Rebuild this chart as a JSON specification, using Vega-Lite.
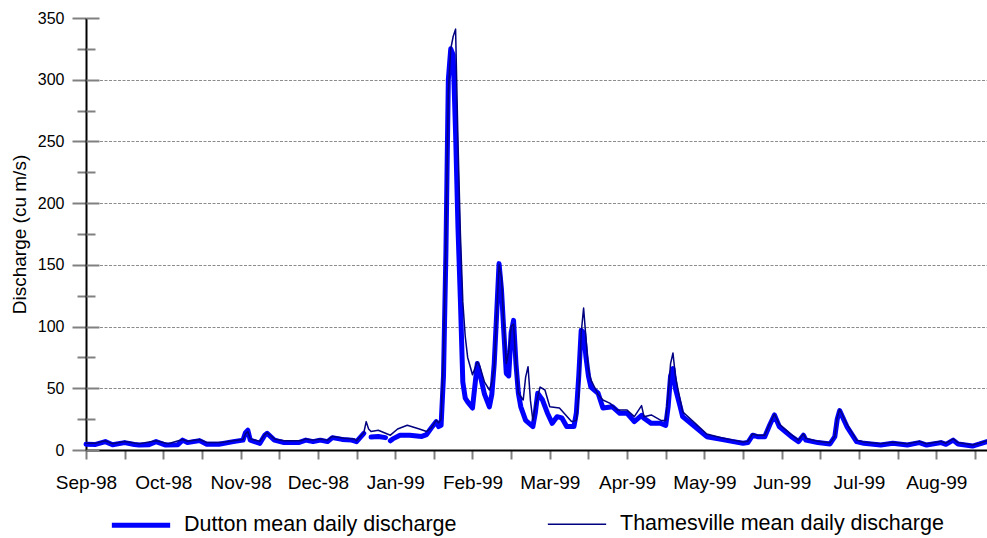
{
  "$schema": "https://vega.github.io/schema/vega-lite/v6.json",
  "width": 901,
  "height": 432,
  "autosize": {"type": "none"},
  "padding": {"left": 86, "top": 18, "right": 0, "bottom": 88},
  "config": {"font": "Liberation Sans", "view": {"stroke": null}},
  "resolve": {"axis": {"y": "independent"}},
  "layer": [
    {
      "data": {"values": [
        {"day":0,"station":"Dutton","q":4.6},{"day":4,"station":"Dutton","q":4.5},{"day":8,"station":"Dutton","q":6.8},{"day":11,"station":"Dutton","q":4.2},{"day":16,"station":"Dutton","q":6},{"day":20,"station":"Dutton","q":4.5},{"day":22,"station":"Dutton","q":4},{"day":26,"station":"Dutton","q":4.2},{"day":29,"station":"Dutton","q":6.8},{"day":33,"station":"Dutton","q":4},{"day":38,"station":"Dutton","q":4.2},{"day":40,"station":"Dutton","q":8},{"day":42,"station":"Dutton","q":6},{"day":47,"station":"Dutton","q":7.6},{"day":50,"station":"Dutton","q":4.6},{"day":55,"station":"Dutton","q":4.6},{"day":61,"station":"Dutton","q":6.8},{"day":65,"station":"Dutton","q":8},{"day":66,"station":"Dutton","q":14},{"day":67,"station":"Dutton","q":16},{"day":68,"station":"Dutton","q":8},{"day":72,"station":"Dutton","q":5.4},{"day":74,"station":"Dutton","q":12},{"day":75,"station":"Dutton","q":13.5},{"day":78,"station":"Dutton","q":8},{"day":82,"station":"Dutton","q":6},{"day":88,"station":"Dutton","q":6},{"day":91,"station":"Dutton","q":8},{"day":94,"station":"Dutton","q":6.8},{"day":97,"station":"Dutton","q":8},{"day":100,"station":"Dutton","q":6.8},{"day":102,"station":"Dutton","q":10},{"day":106,"station":"Dutton","q":8.6},{"day":110,"station":"Dutton","q":8},{"day":112,"station":"Dutton","q":6.8},{"day":115,"station":"Dutton","q":13.5},{"day":116,"station":"Dutton","q":null},{"day":117,"station":"Dutton","q":null},{"day":118,"station":"Dutton","q":10.5},{"day":121,"station":"Dutton","q":11},{"day":124,"station":"Dutton","q":10},{"day":125,"station":"Dutton","q":null},{"day":126,"station":"Dutton","q":7.5},{"day":127,"station":"Dutton","q":9},{"day":130,"station":"Dutton","q":12},{"day":134,"station":"Dutton","q":12},{"day":139,"station":"Dutton","q":11},{"day":141,"station":"Dutton","q":12.5},{"day":143,"station":"Dutton","q":18},{"day":145,"station":"Dutton","q":23},{"day":146,"station":"Dutton","q":19},{"day":147,"station":"Dutton","q":20},{"day":148,"station":"Dutton","q":60},{"day":149,"station":"Dutton","q":160},{"day":150,"station":"Dutton","q":300},{"day":151,"station":"Dutton","q":325},{"day":152,"station":"Dutton","q":320},{"day":153,"station":"Dutton","q":257},{"day":154,"station":"Dutton","q":180},{"day":155,"station":"Dutton","q":121},{"day":156,"station":"Dutton","q":55},{"day":157,"station":"Dutton","q":42},{"day":158,"station":"Dutton","q":39},{"day":160,"station":"Dutton","q":34},{"day":162,"station":"Dutton","q":70},{"day":163,"station":"Dutton","q":62},{"day":165,"station":"Dutton","q":45},{"day":167,"station":"Dutton","q":35},{"day":168,"station":"Dutton","q":45},{"day":169,"station":"Dutton","q":70},{"day":170,"station":"Dutton","q":110},{"day":171,"station":"Dutton","q":151},{"day":172,"station":"Dutton","q":130},{"day":173,"station":"Dutton","q":95},{"day":174,"station":"Dutton","q":62},{"day":175,"station":"Dutton","q":60},{"day":176,"station":"Dutton","q":95},{"day":177,"station":"Dutton","q":105},{"day":178,"station":"Dutton","q":70},{"day":179,"station":"Dutton","q":46},{"day":180,"station":"Dutton","q":35},{"day":182,"station":"Dutton","q":24},{"day":185,"station":"Dutton","q":19},{"day":186,"station":"Dutton","q":30},{"day":187,"station":"Dutton","q":46},{"day":189,"station":"Dutton","q":40.5},{"day":191,"station":"Dutton","q":30},{"day":193,"station":"Dutton","q":21.6},{"day":195,"station":"Dutton","q":27},{"day":197,"station":"Dutton","q":26},{"day":199,"station":"Dutton","q":19},{"day":202,"station":"Dutton","q":19},{"day":203,"station":"Dutton","q":30},{"day":204,"station":"Dutton","q":60},{"day":205,"station":"Dutton","q":97},{"day":206,"station":"Dutton","q":95},{"day":207,"station":"Dutton","q":75},{"day":208,"station":"Dutton","q":60},{"day":209,"station":"Dutton","q":51},{"day":212,"station":"Dutton","q":46},{"day":214,"station":"Dutton","q":34},{"day":218,"station":"Dutton","q":35},{"day":221,"station":"Dutton","q":29.7},{"day":224,"station":"Dutton","q":29.7},{"day":227,"station":"Dutton","q":23},{"day":230,"station":"Dutton","q":28},{"day":231,"station":"Dutton","q":25.7},{"day":234,"station":"Dutton","q":21.6},{"day":238,"station":"Dutton","q":21.6},{"day":240,"station":"Dutton","q":20},{"day":241,"station":"Dutton","q":35},{"day":242,"station":"Dutton","q":60},{"day":243,"station":"Dutton","q":66},{"day":244,"station":"Dutton","q":50},{"day":246,"station":"Dutton","q":35},{"day":247,"station":"Dutton","q":27},{"day":252,"station":"Dutton","q":19},{"day":257,"station":"Dutton","q":10.8},{"day":263,"station":"Dutton","q":8.6},{"day":268,"station":"Dutton","q":6.8},{"day":272,"station":"Dutton","q":5.4},{"day":274,"station":"Dutton","q":6},{"day":276,"station":"Dutton","q":12},{"day":278,"station":"Dutton","q":10.8},{"day":281,"station":"Dutton","q":10.8},{"day":283,"station":"Dutton","q":20},{"day":285,"station":"Dutton","q":28.4},{"day":287,"station":"Dutton","q":19},{"day":292,"station":"Dutton","q":10.8},{"day":295,"station":"Dutton","q":6.8},{"day":297,"station":"Dutton","q":12},{"day":298,"station":"Dutton","q":8},{"day":303,"station":"Dutton","q":6},{"day":308,"station":"Dutton","q":4.9},{"day":310,"station":"Dutton","q":10.8},{"day":311,"station":"Dutton","q":25},{"day":312,"station":"Dutton","q":31.9},{"day":315,"station":"Dutton","q":19},{"day":319,"station":"Dutton","q":6.8},{"day":322,"station":"Dutton","q":5.4},{"day":329,"station":"Dutton","q":4},{"day":334,"station":"Dutton","q":5.4},{"day":340,"station":"Dutton","q":4},{"day":345,"station":"Dutton","q":6},{"day":348,"station":"Dutton","q":4},{"day":354,"station":"Dutton","q":6},{"day":356,"station":"Dutton","q":4.6},{"day":359,"station":"Dutton","q":8},{"day":361,"station":"Dutton","q":4.9},{"day":367,"station":"Dutton","q":3.2},{"day":370,"station":"Dutton","q":4.9},{"day":373,"station":"Dutton","q":6.8},
        {"day":0,"station":"Thamesville","q":5.5},{"day":4,"station":"Thamesville","q":5.5},{"day":8,"station":"Thamesville","q":7.5},{"day":11,"station":"Thamesville","q":5},{"day":16,"station":"Thamesville","q":6.8},{"day":22,"station":"Thamesville","q":5},{"day":29,"station":"Thamesville","q":7.5},{"day":34,"station":"Thamesville","q":5},{"day":40,"station":"Thamesville","q":8.5},{"day":42,"station":"Thamesville","q":7},{"day":47,"station":"Thamesville","q":8.5},{"day":50,"station":"Thamesville","q":6},{"day":56,"station":"Thamesville","q":6},{"day":61,"station":"Thamesville","q":7.5},{"day":65,"station":"Thamesville","q":8.5},{"day":66,"station":"Thamesville","q":13},{"day":67,"station":"Thamesville","q":15},{"day":68,"station":"Thamesville","q":9},{"day":72,"station":"Thamesville","q":7},{"day":74,"station":"Thamesville","q":12.5},{"day":75,"station":"Thamesville","q":14},{"day":78,"station":"Thamesville","q":9},{"day":82,"station":"Thamesville","q":7.5},{"day":89,"station":"Thamesville","q":7.5},{"day":91,"station":"Thamesville","q":9},{"day":94,"station":"Thamesville","q":8},{"day":97,"station":"Thamesville","q":9},{"day":100,"station":"Thamesville","q":8},{"day":102,"station":"Thamesville","q":11},{"day":107,"station":"Thamesville","q":9.5},{"day":111,"station":"Thamesville","q":9},{"day":112,"station":"Thamesville","q":7.5},{"day":115,"station":"Thamesville","q":14},{"day":116,"station":"Thamesville","q":23},{"day":117,"station":"Thamesville","q":17},{"day":118,"station":"Thamesville","q":15},{"day":121,"station":"Thamesville","q":16},{"day":126,"station":"Thamesville","q":12},{"day":129,"station":"Thamesville","q":17},{"day":133,"station":"Thamesville","q":20},{"day":138,"station":"Thamesville","q":17},{"day":141,"station":"Thamesville","q":15},{"day":143,"station":"Thamesville","q":18},{"day":145,"station":"Thamesville","q":24},{"day":146,"station":"Thamesville","q":22},{"day":147,"station":"Thamesville","q":25},{"day":148,"station":"Thamesville","q":80},{"day":149,"station":"Thamesville","q":170},{"day":150,"station":"Thamesville","q":290},{"day":151,"station":"Thamesville","q":325},{"day":152,"station":"Thamesville","q":335},{"day":153,"station":"Thamesville","q":341},{"day":154,"station":"Thamesville","q":250},{"day":155,"station":"Thamesville","q":175},{"day":156,"station":"Thamesville","q":120},{"day":157,"station":"Thamesville","q":92},{"day":158,"station":"Thamesville","q":75},{"day":160,"station":"Thamesville","q":61},{"day":162,"station":"Thamesville","q":71.5},{"day":163,"station":"Thamesville","q":68},{"day":165,"station":"Thamesville","q":55},{"day":167,"station":"Thamesville","q":48.6},{"day":168,"station":"Thamesville","q":55},{"day":169,"station":"Thamesville","q":67},{"day":170,"station":"Thamesville","q":110},{"day":171,"station":"Thamesville","q":150},{"day":172,"station":"Thamesville","q":140},{"day":173,"station":"Thamesville","q":100},{"day":174,"station":"Thamesville","q":70},{"day":175,"station":"Thamesville","q":80},{"day":176,"station":"Thamesville","q":100},{"day":177,"station":"Thamesville","q":102},{"day":178,"station":"Thamesville","q":70},{"day":179,"station":"Thamesville","q":46},{"day":181,"station":"Thamesville","q":40.5},{"day":182,"station":"Thamesville","q":59},{"day":183,"station":"Thamesville","q":67.5},{"day":184,"station":"Thamesville","q":40},{"day":185,"station":"Thamesville","q":24},{"day":186,"station":"Thamesville","q":35},{"day":188,"station":"Thamesville","q":51},{"day":190,"station":"Thamesville","q":48.6},{"day":192,"station":"Thamesville","q":35},{"day":196,"station":"Thamesville","q":34},{"day":201,"station":"Thamesville","q":23},{"day":203,"station":"Thamesville","q":24},{"day":204,"station":"Thamesville","q":45},{"day":205,"station":"Thamesville","q":95},{"day":206,"station":"Thamesville","q":115},{"day":207,"station":"Thamesville","q":90},{"day":208,"station":"Thamesville","q":65},{"day":209,"station":"Thamesville","q":57},{"day":212,"station":"Thamesville","q":45},{"day":214,"station":"Thamesville","q":40.5},{"day":217,"station":"Thamesville","q":37.8},{"day":220,"station":"Thamesville","q":32.4},{"day":224,"station":"Thamesville","q":32.4},{"day":227,"station":"Thamesville","q":27},{"day":230,"station":"Thamesville","q":36},{"day":231,"station":"Thamesville","q":27},{"day":234,"station":"Thamesville","q":28.4},{"day":238,"station":"Thamesville","q":24},{"day":240,"station":"Thamesville","q":24},{"day":241,"station":"Thamesville","q":45},{"day":242,"station":"Thamesville","q":70},{"day":243,"station":"Thamesville","q":78.6},{"day":244,"station":"Thamesville","q":60},{"day":245,"station":"Thamesville","q":50},{"day":247,"station":"Thamesville","q":31},{"day":252,"station":"Thamesville","q":22},{"day":257,"station":"Thamesville","q":13},{"day":263,"station":"Thamesville","q":10},{"day":268,"station":"Thamesville","q":8},{"day":272,"station":"Thamesville","q":6.5},{"day":274,"station":"Thamesville","q":7},{"day":276,"station":"Thamesville","q":13},{"day":278,"station":"Thamesville","q":12},{"day":281,"station":"Thamesville","q":12},{"day":283,"station":"Thamesville","q":21},{"day":285,"station":"Thamesville","q":29},{"day":287,"station":"Thamesville","q":21},{"day":292,"station":"Thamesville","q":12.5},{"day":295,"station":"Thamesville","q":8},{"day":297,"station":"Thamesville","q":13},{"day":298,"station":"Thamesville","q":9.5},{"day":303,"station":"Thamesville","q":7},{"day":308,"station":"Thamesville","q":5.8},{"day":310,"station":"Thamesville","q":11},{"day":311,"station":"Thamesville","q":26},{"day":312,"station":"Thamesville","q":33},{"day":315,"station":"Thamesville","q":21},{"day":319,"station":"Thamesville","q":8},{"day":322,"station":"Thamesville","q":6.5},{"day":329,"station":"Thamesville","q":5},{"day":334,"station":"Thamesville","q":6.3},{"day":340,"station":"Thamesville","q":5},{"day":345,"station":"Thamesville","q":7},{"day":348,"station":"Thamesville","q":5},{"day":354,"station":"Thamesville","q":7},{"day":356,"station":"Thamesville","q":5.5},{"day":359,"station":"Thamesville","q":9},{"day":361,"station":"Thamesville","q":6},{"day":367,"station":"Thamesville","q":4},{"day":370,"station":"Thamesville","q":5.5},{"day":373,"station":"Thamesville","q":7.5}
      ]},
      "mark": {"type": "line", "invalid": "break-paths-show-domains", "strokeJoin": "round", "strokeCap": "round"},
      "encoding": {
        "x": {
          "field": "day", "type": "quantitative",
          "scale": {"domain": [0, 373], "nice": false, "zero": false},
          "axis": {
            "title": null,
            "values": [0,16,32,48,64,80,96,112,128,144,160,176,192,208,224,240,256,272,288,304,320,336,352,368],
            "labelExpr": "datum.value % 32 === 0 ? ['Sep-98','Oct-98','Nov-98','Dec-98','Jan-99','Feb-99','Mar-99','Apr-99','May-99','Jun-99','Jul-99','Aug-99'][datum.value / 32] : ''",
            "labelFlush": false, "labelOverlap": false,
            "labelFontSize": 19, "labelColor": "black", "labelPadding": 14,
            "tickSize": 9, "tickColor": "#808080", "tickWidth": 2,
            "domainColor": "black", "domainWidth": 2, "grid": false
          }
        },
        "y": {
          "field": "q", "type": "quantitative",
          "scale": {"domain": [0, 350], "nice": false},
          "axis": {
            "orient": "left",
            "title": "Discharge (cu m/s)", "titleFontSize": 19, "titleFontWeight": "normal", "titleColor": "black", "titlePadding": 8,
            "values": [0,25,50,75,100,125,150,175,200,225,250,275,300,325,350],
            "labelExpr": "datum.value % 50 === 0 ? datum.label : ''",
            "labelFontSize": 16, "labelColor": "black", "labelPadding": 8, "labelOverlap": false,
            "tickSize": {"condition": {"test": "datum.value % 50 === 0", "value": 14}, "value": 9},
            "tickColor": "#808080", "tickWidth": 2,
            "domainColor": "black", "domainWidth": 2,
            "grid": true, "gridColor": "#8c8c8c", "gridDash": [3, 1.5], "gridWidth": 1,
            "gridOpacity": {"condition": {"test": "datum.value % 50 === 0 && datum.value > 0 && datum.value < 350", "value": 1}, "value": 0}
          }
        },
        "color": {
          "field": "station", "type": "nominal",
          "scale": {"domain": ["Dutton", "Thamesville"], "range": ["#0000FF", "#000080"]},
          "legend": {"orient": "none", "legendX": 23, "legendY": 475, "direction": "horizontal", "columns": 2, "title": null, "symbolType": "stroke", "symbolSize": 3400, "labelFontSize": 21.5, "labelColor": "black", "labelOffset": 11, "labelLimit": 400, "columnPadding": 87, "padding": 0, "labelExpr": "datum.label + ' mean daily discharge'"}
        },
        "strokeWidth": {
          "field": "station", "type": "nominal",
          "scale": {"domain": ["Dutton", "Thamesville"], "range": [5, 1.5]},
          "legend": {"orient": "none", "legendX": 23, "legendY": 475, "direction": "horizontal", "columns": 2, "title": null, "symbolType": "stroke", "symbolSize": 3400, "labelFontSize": 21.5, "labelColor": "black", "labelOffset": 11, "labelLimit": 400, "columnPadding": 87, "padding": 0, "labelExpr": "datum.label + ' mean daily discharge'"}
        }
      }
    },
    {
      "mark": {"type": "rule", "color": "black", "strokeWidth": 2.5},
      "encoding": {
        "y": {
          "datum": 350, "type": "quantitative",
          "scale": {"domain": [0, 350], "nice": false},
          "axis": {
            "orient": "left", "title": null, "labels": false, "domain": false, "grid": false,
            "values": [0,25,50,75,100,125,150,175,200,225,250,275,300,325,350],
            "tickSize": {"condition": {"test": "datum.value % 50 === 0", "value": -13}, "value": -9},
            "tickColor": "#808080", "tickWidth": 2
          }
        }
      }
    }
  ]
}
